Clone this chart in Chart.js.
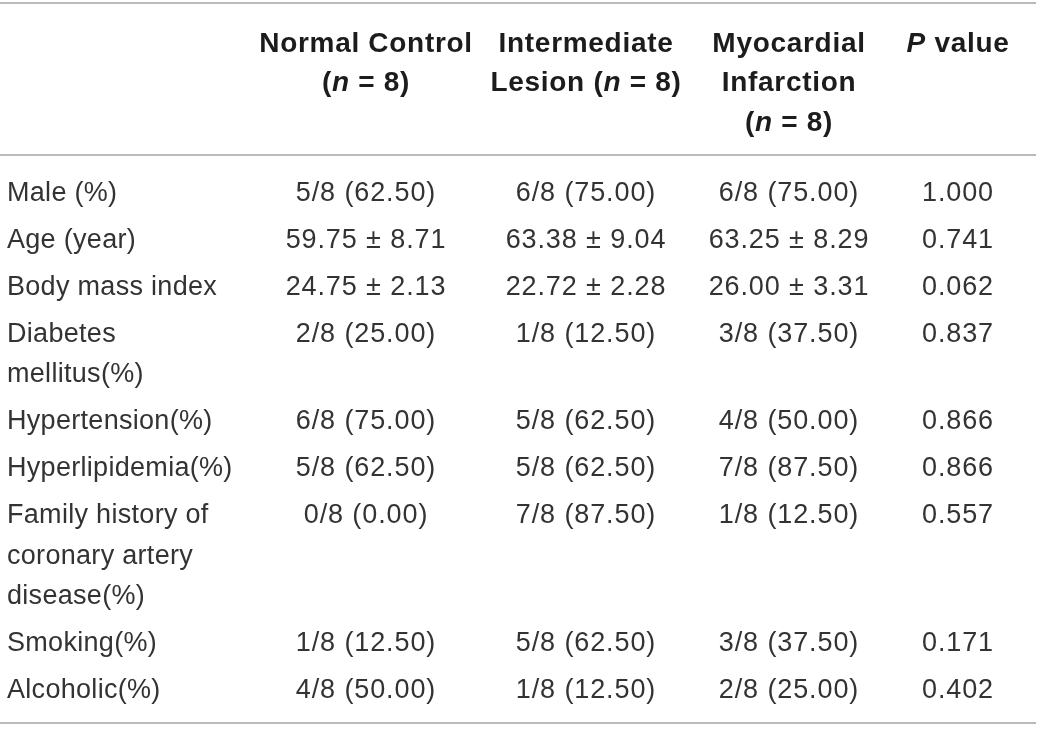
<!DOCTYPE html>
<html>
<head>
<meta charset="utf-8">
<script src="https://cdn.jsdelivr.net/npm/chart.js@4.4.1/dist/chart.umd.min.js"></script>
<style>
html,body{margin:0;padding:0;background:#ffffff;}
#wrap{position:relative;width:1040px;height:730px;}
</style>
</head>
<body>
<div id="wrap"><canvas id="c" width="1040" height="730"></canvas></div>
<script>
// ---- DATA (text only) ----
const headers = [[""], ["Normal Control", "(_n_ = 8)"], ["Intermediate", "Lesion (_n_ = 8)"], ["Myocardial", "Infarction", "(_n_ = 8)"], ["_P_ value"]];
const rowLabels = [["Male (%)"], ["Age (year)"], ["Body mass index"], ["Diabetes", "mellitus(%)"], ["Hypertension(%)"], ["Hyperlipidemia(%)"], ["Family history of", "coronary artery", "disease(%)"], ["Smoking(%)"], ["Alcoholic(%)"]];
const normalControl = ["5/8 (62.50)", "59.75 \u00b1 8.71", "24.75 \u00b1 2.13", "2/8 (25.00)", "6/8 (75.00)", "5/8 (62.50)", "0/8 (0.00)", "1/8 (12.50)", "4/8 (50.00)"];
const intermediateLesion = ["6/8 (75.00)", "63.38 \u00b1 9.04", "22.72 \u00b1 2.28", "1/8 (12.50)", "5/8 (62.50)", "5/8 (62.50)", "7/8 (87.50)", "5/8 (62.50)", "1/8 (12.50)"];
const myocardialInfarction = ["6/8 (75.00)", "63.25 \u00b1 8.29", "26.00 \u00b1 3.31", "3/8 (37.50)", "4/8 (50.00)", "7/8 (87.50)", "1/8 (12.50)", "3/8 (37.50)", "2/8 (25.00)"];
const pValues = ["1.000", "0.741", "0.062", "0.837", "0.866", "0.866", "0.557", "0.171", "0.402"];

// ---- LAYOUT (positions / styles) ----
const COL_X = [7, 366, 586, 789, 958];
const HEAD_BASE = 51.5, HEAD_PITCH = 39.5;
const BODY_BASE = 200.5, LINE_PITCH = 40.5, ROW_GAP = 47;
const RULE_Y = [3, 155, 723];
const RULE_X = [0, 1036];
const FONT_FAMILY = '"Liberation Sans", Arial, Helvetica, sans-serif';
const BODY_SIZE = 27, HEAD_SIZE = 28;
const BODY_COLOR = '#333333';
const HEAD_COLOR = '#1c1c1c';
const RULE_COLOR = '#a3a3a3';

const valueColumns = [normalControl, intermediateLesion, myocardialInfarction, pValues];

// Build cell anchors (y positions derived from line counts)
const cells = [];
headers.forEach((lines, c) => {
  lines.forEach((t, k) => {
    if (t) cells.push({x: COL_X[c], y: HEAD_BASE + k * HEAD_PITCH, text: t, bold: true, size: HEAD_SIZE, align: c === 0 ? 'left' : 'center', spacing: 0.7});
  });
});
let yCur = BODY_BASE;
rowLabels.forEach((lines, r) => {
  lines.forEach((t, k) => cells.push({x: COL_X[0], y: yCur + k * LINE_PITCH, text: t, bold: false, size: BODY_SIZE, align: 'left', spacing: 0.3}));
  valueColumns.forEach((col, c) => cells.push({x: COL_X[c + 1], y: yCur, text: col[r], bold: false, size: BODY_SIZE, align: 'center', spacing: 0.9}));
  yCur += (lines.length - 1) * LINE_PITCH + ROW_GAP;
});

function segs(text) {
  return text.split('_').map((s, i) => ({s, italic: i % 2 === 1})).filter(o => o.s.length);
}

const tablePlugin = {
  id: 'tablePlugin',
  afterDatasetsDraw(chart) {
    const ctx = chart.ctx, xs = chart.scales.x, ys = chart.scales.y;
    ctx.save();
    // rules
    ctx.strokeStyle = RULE_COLOR;
    ctx.lineWidth = 1.6;
    RULE_Y.forEach(v => {
      const py = ys.getPixelForValue(v);
      ctx.beginPath();
      ctx.moveTo(xs.getPixelForValue(RULE_X[0]), py);
      ctx.lineTo(xs.getPixelForValue(RULE_X[1]), py);
      ctx.stroke();
    });
    // cells
    ctx.textBaseline = 'alphabetic';
    ctx.textAlign = 'left';
    chart.data.datasets[0].data.forEach(cell => {
      const px = xs.getPixelForValue(cell.x), py = ys.getPixelForValue(cell.y);
      const parts = segs(cell.text);
      try { ctx.letterSpacing = cell.spacing + 'px'; } catch (e) {}
      let total = 0;
      parts.forEach(p => {
        ctx.font = (p.italic ? 'italic ' : '') + (cell.bold ? 'bold ' : '') + cell.size + 'px ' + FONT_FAMILY;
        p.w = ctx.measureText(p.s).width;
        total += p.w;
      });
      let x0 = cell.align === 'center' ? px - total / 2 : px;
      ctx.fillStyle = cell.bold ? HEAD_COLOR : BODY_COLOR;
      parts.forEach(p => {
        ctx.font = (p.italic ? 'italic ' : '') + (cell.bold ? 'bold ' : '') + cell.size + 'px ' + FONT_FAMILY;
        ctx.fillText(p.s, x0, py);
        x0 += p.w;
      });
    });
    ctx.restore();
  }
};

new Chart(document.getElementById('c'), {
  type: 'scatter',
  data: {datasets: [{data: cells, pointRadius: 0, pointHoverRadius: 0, showLine: false}]},
  options: {
    responsive: false,
    animation: false,
    events: [],
    layout: {padding: 0},
    plugins: {legend: {display: false}, tooltip: {enabled: false}, title: {display: false}},
    scales: {
      x: {type: 'linear', min: 0, max: 1040, display: false},
      y: {type: 'linear', min: 0, max: 730, reverse: true, display: false}
    }
  },
  plugins: [tablePlugin]
});
</script>
</body>
</html>
